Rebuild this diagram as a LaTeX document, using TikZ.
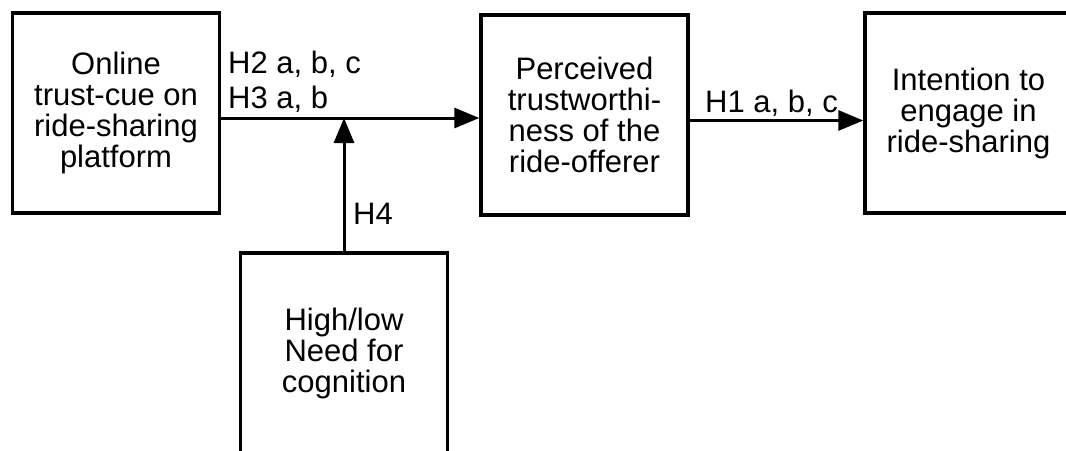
\documentclass[tikz,border=0pt]{standalone}
\usepackage{fontspec}
\setmainfont{Liberation Sans}
\usetikzlibrary{arrows.meta}
\begin{document}
\begin{tikzpicture}[x=1pt,y=-1pt,
  box/.style={draw=black,line width=3.4pt,fill=white,minimum width=207pt,minimum height=200pt,
    inner sep=0pt,align=center,font=\fontsize{31}{31}\selectfont},
  link/.style={line width=3pt,-{Triangle[length=25pt,width=20pt]}},
  lbl/.style={inner sep=0pt,font=\fontsize{31}{31}\selectfont}]
  \path[use as bounding box] (0,0) rectangle (1066,450);
  \clip (0,0) rectangle (1066,450);
  % constructs
  \node[box] (cue) at (116,113) {Online\\trust-cue on\\ride-sharing\\platform};
  \node[box] (trust) at (584.5,115) {Perceived\\trustworthi-\\ness of the\\ride-offerer};
  \node[box] (intent) at (968.5,113) {Intention to\\engage in\\ride-sharing};
  \node[box] (nfc) at (344,353) {High/low\\Need for\\cognition};
  % paths
  \coordinate (row) at (0,118);
  \coordinate (row2) at (0,120.5);
  \draw[link] (cue.east |- row) -- (trust.west |- row);
  \draw[link] (nfc.north) -- (nfc.north |- row);
  \draw[link] (trust.east |- row2) -- (intent.west |- row2);
  % hypothesis labels
  \node[lbl,anchor=base west] (h2) at (228,73) {H2 a, b, c};
  \node[lbl,anchor=base west] (h3) at (228,108) {H3 a, b};
  \node[lbl,anchor=base west] (h4) at (353,224) {H4};
  \node[lbl,anchor=base west] (h1) at (705,112) {H1 a, b, c};
\end{tikzpicture}
\end{document}
